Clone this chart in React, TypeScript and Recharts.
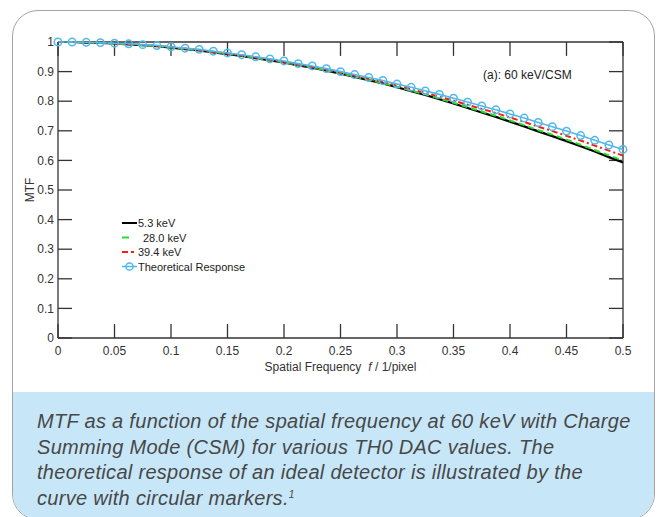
import { Legend, Line, LineChart, ReferenceLine, XAxis, YAxis } from "recharts";

// spatial frequency samples (1/pixel)
const freq = [
  0, 0.0125, 0.025, 0.0375, 0.05, 0.0625, 0.075, 0.0875, 0.1, 0.1125, 0.125,
  0.1375, 0.15, 0.1625, 0.175, 0.1875, 0.2, 0.2125, 0.225, 0.2375, 0.25,
  0.2625, 0.275, 0.2875, 0.3, 0.3125, 0.325, 0.3375, 0.35, 0.3625, 0.375,
  0.3875, 0.4, 0.4125, 0.425, 0.4375, 0.45, 0.4625, 0.475, 0.4875, 0.5,
];

const mtf53 = [
  1.0, 1.0, 0.998, 0.997, 0.995, 0.992, 0.989, 0.986, 0.981, 0.976, 0.972,
  0.965, 0.959, 0.953, 0.945, 0.938, 0.931, 0.921, 0.913, 0.903, 0.893, 0.882,
  0.871, 0.86, 0.847, 0.834, 0.821, 0.807, 0.792, 0.777, 0.762, 0.747, 0.731,
  0.715, 0.698, 0.682, 0.665, 0.648, 0.63, 0.611, 0.593,
];

const mtf280 = [
  1.0, 1.0, 0.998, 0.997, 0.995, 0.992, 0.989, 0.986, 0.981, 0.976, 0.972,
  0.966, 0.96, 0.954, 0.946, 0.939, 0.932, 0.922, 0.914, 0.904, 0.894, 0.883,
  0.872, 0.861, 0.849, 0.836, 0.823, 0.809, 0.795, 0.78, 0.765, 0.751, 0.735,
  0.719, 0.702, 0.687, 0.67, 0.653, 0.635, 0.617, 0.6,
];

const mtf394 = [
  1.0, 1.0, 0.999, 0.998, 0.995, 0.993, 0.99, 0.987, 0.983, 0.978, 0.973,
  0.967, 0.961, 0.955, 0.948, 0.941, 0.933, 0.924, 0.916, 0.907, 0.897, 0.886,
  0.876, 0.865, 0.853, 0.841, 0.828, 0.815, 0.802, 0.788, 0.774, 0.76, 0.745,
  0.73, 0.714, 0.699, 0.683, 0.667, 0.65, 0.633, 0.616,
];

const theory = [
  1.0, 1.0, 0.999, 0.998, 0.996, 0.994, 0.991, 0.988, 0.984, 0.979, 0.975,
  0.969, 0.963, 0.957, 0.95, 0.943, 0.936, 0.927, 0.919, 0.91, 0.9, 0.89, 0.88,
  0.87, 0.858, 0.847, 0.835, 0.823, 0.81, 0.797, 0.784, 0.771, 0.757, 0.743,
  0.728, 0.714, 0.699, 0.684, 0.668, 0.652, 0.637,
];

const xTicks = [0, 0.05, 0.1, 0.15, 0.2, 0.25, 0.3, 0.35, 0.4, 0.45, 0.5];
const yTicks = [0, 0.1, 0.2, 0.3, 0.4, 0.5, 0.6, 0.7, 0.8, 0.9, 1];

const seriesNames = ["5.3 keV", "28.0 keV", "39.4 keV", "Theoretical Response"];

const data = freq.map((f, i) => ({
  f,
  k53: mtf53[i],
  k280: mtf280[i],
  k394: mtf394[i],
  theory: theory[i],
}));

const X_MIN = 0;
const X_MAX = 0.5;
const Y_MIN = 0;
const Y_MAX = 1;
// inward tick length (~14px) expressed in axis units
const TICK_DX = 0.0124;
const TICK_DY = 0.047;

const AXIS = "#333";
const BLUE = "#52b8ea";
const FONT = "'Liberation Sans', Arial, sans-serif";

const XLabel = (props: any) => {
  const vb = props.viewBox || { x: 58, y: 338, width: 565, height: 54 };
  return (
    <text
      x={vb.x + vb.width / 2}
      y={vb.y + 33}
      textAnchor="middle"
      fill={AXIS}
      fontSize={12}
    >
      Spatial Frequency
      <tspan dx={7} fontStyle="italic">
        f
      </tspan>
      <tspan> / 1/pixel</tspan>
    </text>
  );
};

const YLabel = (props: any) => {
  const vb = props.viewBox || { x: 0, y: 42, width: 58, height: 296 };
  const cx = 30;
  const cy = vb.y + vb.height / 2;
  return (
    <text
      x={cx}
      y={cy}
      transform={`rotate(-90, ${cx}, ${cy})`}
      textAnchor="middle"
      dominantBaseline="central"
      fill={AXIS}
      fontSize={12}
    >
      MTF
    </text>
  );
};

const LegendBox = () => (
  <svg width={150} height={60} style={{ fontFamily: FONT }}>
    {/* 5.3 keV */}
    <line x1={2} x2={17} y1={7} y2={7} stroke="#000" strokeWidth={2} />
    <text x={18} y={11} fontSize={11} fill="#222">
      {seriesNames[0]}
    </text>
    {/* 28.0 keV */}
    <line x1={2} x2={9} y1={21.5} y2={21.5} stroke="#22e022" strokeWidth={2} />
    <text x={23} y={25.5} fontSize={11} fill="#222">
      {seriesNames[1]}
    </text>
    {/* 39.4 keV */}
    <line
      x1={2}
      x2={15}
      y1={36}
      y2={36}
      stroke="#ff1a1a"
      strokeWidth={2}
      strokeDasharray="6 3 3 3"
    />
    <text x={18} y={40} fontSize={11} fill="#222">
      {seriesNames[2]}
    </text>
    {/* theoretical */}
    <line x1={2} x2={17} y1={50.5} y2={50.5} stroke={BLUE} strokeWidth={1.5} />
    <circle cx={9.5} cy={50.5} r={3.6} fill="none" stroke={BLUE} strokeWidth={1.5} />
    <text x={18} y={54.5} fontSize={11} fill="#222">
      {seriesNames[3]}
    </text>
  </svg>
);

export default function App() {
  return (
    <div
      style={{
        position: "absolute",
        left: 0,
        top: 0,
        width: 664,
        height: 517,
        background: "#fff",
        overflow: "hidden",
        fontFamily: FONT,
      }}
    >
      <div
        style={{
          position: "absolute",
          left: 12,
          top: 10,
          width: 643,
          height: 510,
          boxSizing: "border-box",
          border: "1.5px solid #a3a3a3",
          borderRadius: 26,
          overflow: "hidden",
          background: "#fff",
        }}
      >
        <div
          style={{
            position: "absolute",
            left: 0,
            right: 0,
            top: 381,
            bottom: 0,
            background: "#c7e7f8",
          }}
        />
      </div>

      <div style={{ position: "absolute", left: 0, top: 0 }}>
        <LineChart
          width={664}
          height={392}
          data={data}
          margin={{ top: 42, right: 41, bottom: 0, left: 0 }}
          style={{ fontFamily: FONT }}
        >
          <XAxis
            dataKey="f"
            type="number"
            domain={[X_MIN, X_MAX]}
            ticks={xTicks}
            height={54}
            stroke={AXIS}
            strokeWidth={1.3}
            tickLine={false}
            tick={{ fill: AXIS, fontSize: 12 }}
            tickFormatter={(v: number) => String(v)}
            label={{ content: XLabel }}
          />
          <YAxis
            type="number"
            domain={[Y_MIN, Y_MAX]}
            ticks={yTicks}
            width={58}
            stroke={AXIS}
            strokeWidth={1.3}
            tickLine={false}
            tick={{ fill: AXIS, fontSize: 12, dx: 4 }}
            tickFormatter={(v: number) => String(v)}
            label={{ content: YLabel }}
          />
          {/* box frame: top and right */}
          <ReferenceLine y={Y_MAX} stroke={AXIS} strokeWidth={1.3} />
          <ReferenceLine x={X_MAX} stroke={AXIS} strokeWidth={1.3} />
          {/* inward ticks on all four sides */}
          {xTicks.map((v) => (
            <ReferenceLine
              key={`xb${v}`}
              segment={[
                { x: v, y: Y_MIN },
                { x: v, y: Y_MIN + TICK_DY },
              ]}
              stroke={AXIS}
              strokeWidth={1.3}
            />
          ))}
          {xTicks.map((v) => (
            <ReferenceLine
              key={`xt${v}`}
              segment={[
                { x: v, y: Y_MAX },
                { x: v, y: Y_MAX - TICK_DY },
              ]}
              stroke={AXIS}
              strokeWidth={1.3}
            />
          ))}
          {yTicks.map((v) => (
            <ReferenceLine
              key={`yl${v}`}
              segment={[
                { x: X_MIN, y: v },
                { x: X_MIN + TICK_DX, y: v },
              ]}
              stroke={AXIS}
              strokeWidth={1.3}
            />
          ))}
          {yTicks.map((v) => (
            <ReferenceLine
              key={`yr${v}`}
              segment={[
                { x: X_MAX, y: v },
                { x: X_MAX - TICK_DX, y: v },
              ]}
              stroke={AXIS}
              strokeWidth={1.3}
            />
          ))}
          <Legend
            layout="vertical"
            align="center"
            verticalAlign="middle"
            content={LegendBox}
            wrapperStyle={{ left: 120, top: 216, width: 150, height: 60 }}
          />
          <Line
            dataKey="k53"
            name={seriesNames[0]}
            stroke="#000"
            strokeWidth={2.2}
            dot={false}
            isAnimationActive={false}
          />
          <Line
            dataKey="k280"
            name={seriesNames[1]}
            stroke="#22e022"
            strokeWidth={2}
            strokeDasharray="6 4"
            dot={false}
            isAnimationActive={false}
          />
          <Line
            dataKey="k394"
            name={seriesNames[2]}
            stroke="#ff1a1a"
            strokeWidth={2}
            strokeDasharray="6 3 2 3"
            dot={false}
            isAnimationActive={false}
          />
          <Line
            dataKey="theory"
            name={seriesNames[3]}
            stroke={BLUE}
            strokeWidth={1.6}
            dot={{ r: 3.7, fill: "none", stroke: BLUE, strokeWidth: 1.5 }}
            isAnimationActive={false}
          />
        </LineChart>
      </div>

      <div
        style={{
          position: "absolute",
          left: 483,
          top: 68,
          fontSize: 12,
          color: "#222",
          whiteSpace: "nowrap",
        }}
      >
        (a): 60 keV/CSM
      </div>

      <div
        style={{
          position: "absolute",
          left: 37,
          top: 409,
          width: 615,
          fontSize: 20,
          lineHeight: "25.5px",
          letterSpacing: 0.3,
          fontStyle: "italic",
          color: "#484848",
          whiteSpace: "nowrap",
        }}
      >
        MTF as a function of the spatial frequency at 60 keV with Charge
        <br />
        Summing Mode (CSM) for various TH0 DAC values. The
        <br />
        theoretical response of an ideal detector is illustrated by the
        <br />
        curve with circular markers.
        <sup style={{ fontSize: 10, verticalAlign: "top", lineHeight: "18px" }}>1</sup>
      </div>
    </div>
  );
}
